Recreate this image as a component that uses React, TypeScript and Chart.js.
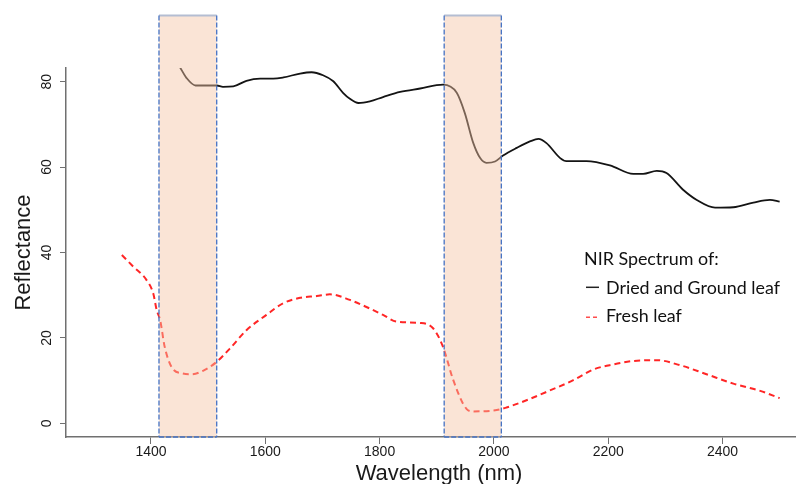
import { useEffect, useRef } from "react";
import { Chart, registerables } from "chart.js";

Chart.register(...registerables);

const driedWavelength = [1451, 1462, 1478, 1515, 1526, 1544, 1567, 1591, 1614, 1632, 1661, 1681, 1701, 1719, 1736, 1748, 1763, 1783, 1806, 1836, 1871, 1911, 1935, 1949, 1964, 1976, 1987, 2002, 2016, 2040, 2063, 2078, 2092, 2116, 2127, 2162, 2203, 2244, 2261, 2285, 2302, 2331, 2355, 2387, 2419, 2454, 2483, 2500];
const driedReflectance = [83.3, 80.9, 79.1, 79.1, 78.8, 78.9, 80.2, 80.7, 80.7, 81.0, 81.9, 82.2, 81.5, 80.1, 77.4, 76.0, 75.0, 75.4, 76.4, 77.6, 78.4, 79.3, 77.4, 72.7, 65.6, 62.1, 61.0, 61.3, 62.7, 64.5, 66.0, 66.6, 65.6, 62.1, 61.4, 61.4, 60.4, 58.4, 58.4, 59.1, 58.6, 54.7, 52.3, 50.5, 50.6, 51.7, 52.3, 51.9];

const freshWavelength = [1349, 1369, 1392, 1404, 1410, 1416, 1424, 1436, 1454, 1471, 1491, 1515, 1538, 1567, 1602, 1631, 1661, 1690, 1713, 1748, 1776, 1806, 1830, 1871, 1894, 1911, 1929, 1952, 1964, 2005, 2022, 2057, 2098, 2139, 2174, 2209, 2244, 2285, 2326, 2372, 2419, 2466, 2500];
const freshReflectance = [39.4, 36.7, 33.6, 30.4, 26.5, 24.2, 17.9, 13.2, 11.7, 11.5, 12.3, 14.4, 17.5, 21.8, 25.4, 28.1, 29.4, 29.8, 30.2, 28.9, 27.3, 25.4, 23.8, 23.5, 22.2, 17.9, 10.1, 3.4, 2.8, 3.1, 3.7, 5.4, 7.7, 10.1, 12.6, 13.8, 14.6, 14.8, 13.6, 11.5, 9.3, 7.6, 5.9];

const xTicks = [1400, 1600, 1800, 2000, 2200, 2400];
const yTicks = [0, 20, 40, 60, 80];

const bandStart = [1414, 1913];
const bandEnd = [1515, 2013];
const bandTop = 95.5;

const xLabel = "Wavelength (nm)";
const yLabel = "Reflectance";
const legendTitle = "NIR Spectrum of:";
const seriesNames = ["Dried and Ground leaf", "Fresh leaf"];

const AXIS_COLOR = "#707070";
const TEXT_COLOR = "#1a1a1a";
const TICK_FONT = "14px 'Liberation Sans', Arial, sans-serif";
const TITLE_FONT = "22px 'Liberation Sans', Arial, sans-serif";

const overlayPlugin = {
  id: "overlay",
  afterDatasetsDraw(chart: any) {
    const { ctx, chartArea, scales } = chart;
    const x = scales.x;
    const y = scales.y;
    ctx.save();
    for (let i = 0; i < bandStart.length; i++) {
      const x1 = x.getPixelForValue(bandStart[i]);
      const x2 = x.getPixelForValue(bandEnd[i]);
      const y1 = y.getPixelForValue(bandTop);
      const y2 = chartArea.bottom;
      ctx.fillStyle = "rgba(244,196,164,0.45)";
      ctx.fillRect(x1, y1, x2 - x1, y2 - y1);
      ctx.setLineDash([]);
      ctx.strokeStyle = "#b4bdd2";
      ctx.lineWidth = 2;
      ctx.beginPath();
      ctx.moveTo(x1, y1);
      ctx.lineTo(x2, y1);
      ctx.stroke();
      ctx.strokeStyle = "#4472c4";
      ctx.lineWidth = 1.3;
      ctx.setLineDash([5, 2]);
      ctx.beginPath();
      ctx.moveTo(x1, y1);
      ctx.lineTo(x1, y2);
      ctx.moveTo(x2, y1);
      ctx.lineTo(x2, y2);
      ctx.moveTo(x1, y2);
      ctx.lineTo(x2, y2);
      ctx.stroke();
    }
    ctx.restore();
  },
  afterDraw(chart: any) {
    const { ctx, chartArea, scales } = chart;
    const y = scales.y;
    ctx.save();
    // y tick labels (rotated, R style)
    ctx.fillStyle = TEXT_COLOR;
    ctx.font = TICK_FONT;
    ctx.textAlign = "center";
    ctx.textBaseline = "middle";
    for (const v of yTicks) {
      const py = y.getPixelForValue(v);
      ctx.save();
      ctx.translate(47.5, py);
      ctx.rotate(-Math.PI / 2);
      ctx.fillText(String(v), 0, 0);
      ctx.restore();
    }
    // axis titles
    ctx.font = TITLE_FONT;
    ctx.textBaseline = "alphabetic";
    ctx.fillText(xLabel, 439, 479.5);
    ctx.save();
    ctx.translate(29.5, (chartArea.top + chartArea.bottom) / 2);
    ctx.rotate(-Math.PI / 2);
    ctx.fillText(yLabel, 0, 0);
    ctx.restore();

    // legend
    const fam = "Lato, 'Open Sans', sans-serif";
    ctx.font = `100px ${fam}`;
    const w = ctx.measureText(seriesNames[0]).width;
    const size = (174 / w) * 100;
    ctx.font = `${size}px ${fam}`;
    ctx.textAlign = "left";
    ctx.fillStyle = "#111";
    ctx.fillText(legendTitle, 584, 265);
    ctx.fillText(seriesNames[0], 606, 293.5);
    ctx.fillText(seriesNames[1], 606, 321.5);
    ctx.lineWidth = 1.5;
    ctx.strokeStyle = "#222";
    ctx.setLineDash([]);
    ctx.beginPath();
    ctx.moveTo(586, 287.3);
    ctx.lineTo(599, 287.3);
    ctx.stroke();
    ctx.strokeStyle = "#ff4d4d";
    ctx.setLineDash([4, 3]);
    ctx.beginPath();
    ctx.moveTo(586, 317.3);
    ctx.lineTo(600, 317.3);
    ctx.stroke();
    ctx.restore();
  },
};

export default function App() {
  const canvasRef = useRef<HTMLCanvasElement | null>(null);

  useEffect(() => {
    if (!canvasRef.current) return;
    const chart = new Chart(canvasRef.current, {
      type: "line",
      data: {
        datasets: [
          {
            label: seriesNames[0],
            data: driedWavelength.map((wl, i) => ({ x: wl, y: driedReflectance[i] })),
            borderColor: "#141414",
            borderWidth: 1.8,
            pointRadius: 0,
            cubicInterpolationMode: "monotone",
            fill: false,
          },
          {
            label: seriesNames[1],
            data: freshWavelength.map((wl, i) => ({ x: wl, y: freshReflectance[i] })),
            borderColor: "#ff2626",
            borderWidth: 2,
            borderDash: [6, 4],
            pointRadius: 0,
            cubicInterpolationMode: "monotone",
            fill: false,
          },
        ],
      },
      options: {
        animation: false,
        responsive: true,
        maintainAspectRatio: false,
        layout: { padding: { top: 68, right: 0, left: 0, bottom: 0 } },
        plugins: { legend: { display: false }, tooltip: { enabled: false }, title: { display: false } },
        scales: {
          x: {
            type: "linear",
            min: 1251.3,
            max: 2528.6,
            afterBuildTicks: (scale: any) => {
              scale.ticks = xTicks.map((v) => ({ value: v }));
            },
            afterFit: (scale: any) => {
              scale.height = 47;
            },
            ticks: {
              color: TEXT_COLOR,
              font: { family: "'Liberation Sans', Arial, sans-serif", size: 14 },
              padding: 0,
              maxRotation: 0,
              autoSkip: false,
              callback: (v: any) => String(v),
            },
            grid: { display: true, drawOnChartArea: false, drawTicks: true, tickLength: 7, color: AXIS_COLOR, lineWidth: 1 },
            border: { display: true, color: AXIS_COLOR, width: 1.5 },
          },
          y: {
            type: "linear",
            min: -3.2,
            max: 83.2,
            afterBuildTicks: (scale: any) => {
              scale.ticks = yTicks.map((v) => ({ value: v }));
            },
            afterFit: (scale: any) => {
              scale.width = 66;
            },
            ticks: { color: "rgba(0,0,0,0)", font: { size: 14 }, padding: 0 },
            grid: { display: true, drawOnChartArea: false, drawTicks: true, tickLength: 6, color: AXIS_COLOR, lineWidth: 1 },
            border: { display: true, color: AXIS_COLOR, width: 1.5 },
          },
        },
      },
      plugins: [overlayPlugin],
    } as any);
    return () => chart.destroy();
  }, []);

  return (
    <div style={{ position: "fixed", left: 0, top: 0, width: 796, height: 484, background: "#fff" }}>
      <canvas ref={canvasRef} />
    </div>
  );
}
